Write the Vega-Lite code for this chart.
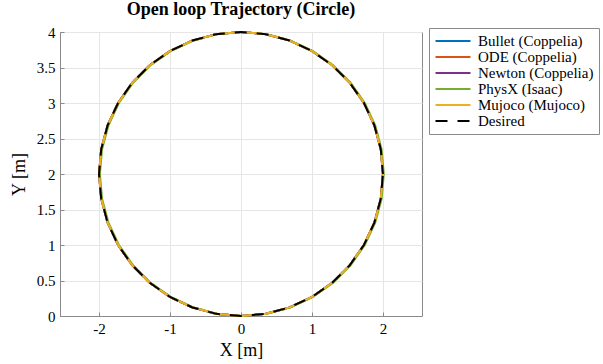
{
  "$schema": "https://vega.github.io/schema/vega-lite/v6.json",
  "autosize": "none",
  "width": 362,
  "height": 284,
  "padding": {"left": 60, "top": 32, "right": 181, "bottom": 48},
  "background": "white",
  "config": {
    "font": "Liberation Serif",
    "view": {"stroke": "#8a8a8a", "strokeWidth": 1},
    "axis": {
      "labelFont": "Liberation Serif",
      "labelFontSize": 15,
      "labelColor": "#000000",
      "titleFont": "Liberation Serif",
      "titleFontSize": 18,
      "titleFontWeight": "normal",
      "titleColor": "#000000",
      "gridColor": "#e6e6e6",
      "gridWidth": 1,
      "domainColor": "#8a8a8a",
      "tickColor": "#8a8a8a",
      "tickSize": -4,
      "labelPadding": 9
    },
    "legend": {"labelFont": "Liberation Serif"}
  },
  "title": {
    "text": "Open loop Trajectory (Circle)",
    "font": "Liberation Serif",
    "fontSize": 18,
    "fontWeight": "bold",
    "color": "#000000",
    "anchor": "middle",
    "offset": 6
  },
  "data": {
    "values": [
      {"s":"Bullet (Coppelia)","i":0,"x":2,"y":2},{"s":"Bullet (Coppelia)","i":1,"x":1.9696,"y":2.3473},{"s":"Bullet (Coppelia)","i":2,"x":1.8794,"y":2.684},{"s":"Bullet (Coppelia)","i":3,"x":1.7321,"y":3},{"s":"Bullet (Coppelia)","i":4,"x":1.5321,"y":3.2856},{"s":"Bullet (Coppelia)","i":5,"x":1.2856,"y":3.5321},{"s":"Bullet (Coppelia)","i":6,"x":1,"y":3.7321},{"s":"Bullet (Coppelia)","i":7,"x":0.684,"y":3.8794},{"s":"Bullet (Coppelia)","i":8,"x":0.3473,"y":3.9696},{"s":"Bullet (Coppelia)","i":9,"x":0,"y":4},{"s":"Bullet (Coppelia)","i":10,"x":-0.3473,"y":3.9696},{"s":"Bullet (Coppelia)","i":11,"x":-0.684,"y":3.8794},{"s":"Bullet (Coppelia)","i":12,"x":-1,"y":3.7321},{"s":"Bullet (Coppelia)","i":13,"x":-1.2856,"y":3.5321},{"s":"Bullet (Coppelia)","i":14,"x":-1.5321,"y":3.2856},{"s":"Bullet (Coppelia)","i":15,"x":-1.7321,"y":3},{"s":"Bullet (Coppelia)","i":16,"x":-1.8794,"y":2.684},{"s":"Bullet (Coppelia)","i":17,"x":-1.9696,"y":2.3473},{"s":"Bullet (Coppelia)","i":18,"x":-2,"y":2},{"s":"Bullet (Coppelia)","i":19,"x":-1.9696,"y":1.6527},{"s":"Bullet (Coppelia)","i":20,"x":-1.8794,"y":1.316},{"s":"Bullet (Coppelia)","i":21,"x":-1.7321,"y":1},{"s":"Bullet (Coppelia)","i":22,"x":-1.5321,"y":0.7144},{"s":"Bullet (Coppelia)","i":23,"x":-1.2856,"y":0.4679},{"s":"Bullet (Coppelia)","i":24,"x":-1,"y":0.2679},{"s":"Bullet (Coppelia)","i":25,"x":-0.684,"y":0.1206},{"s":"Bullet (Coppelia)","i":26,"x":-0.3473,"y":0.0304},{"s":"Bullet (Coppelia)","i":27,"x":0,"y":0},{"s":"Bullet (Coppelia)","i":28,"x":0.3473,"y":0.0304},{"s":"Bullet (Coppelia)","i":29,"x":0.684,"y":0.1206},{"s":"Bullet (Coppelia)","i":30,"x":1,"y":0.2679},{"s":"Bullet (Coppelia)","i":31,"x":1.2856,"y":0.4679},{"s":"Bullet (Coppelia)","i":32,"x":1.5321,"y":0.7144},{"s":"Bullet (Coppelia)","i":33,"x":1.7321,"y":1},{"s":"Bullet (Coppelia)","i":34,"x":1.8794,"y":1.316},{"s":"Bullet (Coppelia)","i":35,"x":1.9696,"y":1.6527},{"s":"Bullet (Coppelia)","i":36,"x":2,"y":2},
      {"s":"ODE (Coppelia)","i":0,"x":2,"y":2},{"s":"ODE (Coppelia)","i":1,"x":1.9696,"y":2.3473},{"s":"ODE (Coppelia)","i":2,"x":1.8794,"y":2.684},{"s":"ODE (Coppelia)","i":3,"x":1.7321,"y":3},{"s":"ODE (Coppelia)","i":4,"x":1.5321,"y":3.2856},{"s":"ODE (Coppelia)","i":5,"x":1.2856,"y":3.5321},{"s":"ODE (Coppelia)","i":6,"x":1,"y":3.7321},{"s":"ODE (Coppelia)","i":7,"x":0.684,"y":3.8794},{"s":"ODE (Coppelia)","i":8,"x":0.3473,"y":3.9696},{"s":"ODE (Coppelia)","i":9,"x":0,"y":4},{"s":"ODE (Coppelia)","i":10,"x":-0.3473,"y":3.9696},{"s":"ODE (Coppelia)","i":11,"x":-0.684,"y":3.8794},{"s":"ODE (Coppelia)","i":12,"x":-1,"y":3.7321},{"s":"ODE (Coppelia)","i":13,"x":-1.2856,"y":3.5321},{"s":"ODE (Coppelia)","i":14,"x":-1.5321,"y":3.2856},{"s":"ODE (Coppelia)","i":15,"x":-1.7321,"y":3},{"s":"ODE (Coppelia)","i":16,"x":-1.8794,"y":2.684},{"s":"ODE (Coppelia)","i":17,"x":-1.9696,"y":2.3473},{"s":"ODE (Coppelia)","i":18,"x":-2,"y":2},{"s":"ODE (Coppelia)","i":19,"x":-1.9696,"y":1.6527},{"s":"ODE (Coppelia)","i":20,"x":-1.8794,"y":1.316},{"s":"ODE (Coppelia)","i":21,"x":-1.7321,"y":1},{"s":"ODE (Coppelia)","i":22,"x":-1.5321,"y":0.7144},{"s":"ODE (Coppelia)","i":23,"x":-1.2856,"y":0.4679},{"s":"ODE (Coppelia)","i":24,"x":-1,"y":0.2679},{"s":"ODE (Coppelia)","i":25,"x":-0.684,"y":0.1206},{"s":"ODE (Coppelia)","i":26,"x":-0.3473,"y":0.0304},{"s":"ODE (Coppelia)","i":27,"x":0,"y":0},{"s":"ODE (Coppelia)","i":28,"x":0.3473,"y":0.0304},{"s":"ODE (Coppelia)","i":29,"x":0.684,"y":0.1206},{"s":"ODE (Coppelia)","i":30,"x":1,"y":0.2679},{"s":"ODE (Coppelia)","i":31,"x":1.2856,"y":0.4679},{"s":"ODE (Coppelia)","i":32,"x":1.5321,"y":0.7144},{"s":"ODE (Coppelia)","i":33,"x":1.7321,"y":1},{"s":"ODE (Coppelia)","i":34,"x":1.8794,"y":1.316},{"s":"ODE (Coppelia)","i":35,"x":1.9696,"y":1.6527},{"s":"ODE (Coppelia)","i":36,"x":2,"y":2},
      {"s":"Newton (Coppelia)","i":0,"x":2,"y":2},{"s":"Newton (Coppelia)","i":1,"x":1.9696,"y":2.3473},{"s":"Newton (Coppelia)","i":2,"x":1.8794,"y":2.684},{"s":"Newton (Coppelia)","i":3,"x":1.7321,"y":3},{"s":"Newton (Coppelia)","i":4,"x":1.5321,"y":3.2856},{"s":"Newton (Coppelia)","i":5,"x":1.2856,"y":3.5321},{"s":"Newton (Coppelia)","i":6,"x":1,"y":3.7321},{"s":"Newton (Coppelia)","i":7,"x":0.684,"y":3.8794},{"s":"Newton (Coppelia)","i":8,"x":0.3473,"y":3.9696},{"s":"Newton (Coppelia)","i":9,"x":0,"y":4},{"s":"Newton (Coppelia)","i":10,"x":-0.3473,"y":3.9696},{"s":"Newton (Coppelia)","i":11,"x":-0.684,"y":3.8794},{"s":"Newton (Coppelia)","i":12,"x":-1,"y":3.7321},{"s":"Newton (Coppelia)","i":13,"x":-1.2856,"y":3.5321},{"s":"Newton (Coppelia)","i":14,"x":-1.5321,"y":3.2856},{"s":"Newton (Coppelia)","i":15,"x":-1.7321,"y":3},{"s":"Newton (Coppelia)","i":16,"x":-1.8794,"y":2.684},{"s":"Newton (Coppelia)","i":17,"x":-1.9696,"y":2.3473},{"s":"Newton (Coppelia)","i":18,"x":-2,"y":2},{"s":"Newton (Coppelia)","i":19,"x":-1.9696,"y":1.6527},{"s":"Newton (Coppelia)","i":20,"x":-1.8794,"y":1.316},{"s":"Newton (Coppelia)","i":21,"x":-1.7321,"y":1},{"s":"Newton (Coppelia)","i":22,"x":-1.5321,"y":0.7144},{"s":"Newton (Coppelia)","i":23,"x":-1.2856,"y":0.4679},{"s":"Newton (Coppelia)","i":24,"x":-1,"y":0.2679},{"s":"Newton (Coppelia)","i":25,"x":-0.684,"y":0.1206},{"s":"Newton (Coppelia)","i":26,"x":-0.3473,"y":0.0304},{"s":"Newton (Coppelia)","i":27,"x":0,"y":0},{"s":"Newton (Coppelia)","i":28,"x":0.3473,"y":0.0304},{"s":"Newton (Coppelia)","i":29,"x":0.684,"y":0.1206},{"s":"Newton (Coppelia)","i":30,"x":1,"y":0.2679},{"s":"Newton (Coppelia)","i":31,"x":1.2856,"y":0.4679},{"s":"Newton (Coppelia)","i":32,"x":1.5321,"y":0.7144},{"s":"Newton (Coppelia)","i":33,"x":1.7321,"y":1},{"s":"Newton (Coppelia)","i":34,"x":1.8794,"y":1.316},{"s":"Newton (Coppelia)","i":35,"x":1.9696,"y":1.6527},{"s":"Newton (Coppelia)","i":36,"x":2,"y":2},
      {"s":"PhysX (Isaac)","i":0,"x":2.012,"y":2},{"s":"PhysX (Isaac)","i":1,"x":1.9816,"y":2.3473},{"s":"PhysX (Isaac)","i":2,"x":1.8914,"y":2.684},{"s":"PhysX (Isaac)","i":3,"x":1.7441,"y":3},{"s":"PhysX (Isaac)","i":4,"x":1.5441,"y":3.2856},{"s":"PhysX (Isaac)","i":5,"x":1.2976,"y":3.5321},{"s":"PhysX (Isaac)","i":6,"x":1.012,"y":3.7321},{"s":"PhysX (Isaac)","i":7,"x":0.696,"y":3.8794},{"s":"PhysX (Isaac)","i":8,"x":0.3593,"y":3.9696},{"s":"PhysX (Isaac)","i":9,"x":0.012,"y":4},{"s":"PhysX (Isaac)","i":10,"x":-0.3353,"y":3.9696},{"s":"PhysX (Isaac)","i":11,"x":-0.672,"y":3.8794},{"s":"PhysX (Isaac)","i":12,"x":-0.988,"y":3.7321},{"s":"PhysX (Isaac)","i":13,"x":-1.2736,"y":3.5321},{"s":"PhysX (Isaac)","i":14,"x":-1.5201,"y":3.2856},{"s":"PhysX (Isaac)","i":15,"x":-1.7201,"y":3},{"s":"PhysX (Isaac)","i":16,"x":-1.8674,"y":2.684},{"s":"PhysX (Isaac)","i":17,"x":-1.9576,"y":2.3473},{"s":"PhysX (Isaac)","i":18,"x":-1.988,"y":2},{"s":"PhysX (Isaac)","i":19,"x":-1.9576,"y":1.6527},{"s":"PhysX (Isaac)","i":20,"x":-1.8674,"y":1.316},{"s":"PhysX (Isaac)","i":21,"x":-1.7201,"y":1},{"s":"PhysX (Isaac)","i":22,"x":-1.5201,"y":0.7144},{"s":"PhysX (Isaac)","i":23,"x":-1.2736,"y":0.4679},{"s":"PhysX (Isaac)","i":24,"x":-0.988,"y":0.2679},{"s":"PhysX (Isaac)","i":25,"x":-0.672,"y":0.1206},{"s":"PhysX (Isaac)","i":26,"x":-0.3353,"y":0.0304},{"s":"PhysX (Isaac)","i":27,"x":0.012,"y":0},{"s":"PhysX (Isaac)","i":28,"x":0.3593,"y":0.0304},{"s":"PhysX (Isaac)","i":29,"x":0.696,"y":0.1206},{"s":"PhysX (Isaac)","i":30,"x":1.012,"y":0.2679},{"s":"PhysX (Isaac)","i":31,"x":1.2976,"y":0.4679},{"s":"PhysX (Isaac)","i":32,"x":1.5441,"y":0.7144},{"s":"PhysX (Isaac)","i":33,"x":1.7441,"y":1},{"s":"PhysX (Isaac)","i":34,"x":1.8914,"y":1.316},{"s":"PhysX (Isaac)","i":35,"x":1.9816,"y":1.6527},{"s":"PhysX (Isaac)","i":36,"x":2.012,"y":2},
      {"s":"Mujoco (Mujoco)","i":0,"x":2,"y":2},{"s":"Mujoco (Mujoco)","i":1,"x":1.9696,"y":2.3473},{"s":"Mujoco (Mujoco)","i":2,"x":1.8794,"y":2.684},{"s":"Mujoco (Mujoco)","i":3,"x":1.7321,"y":3},{"s":"Mujoco (Mujoco)","i":4,"x":1.5321,"y":3.2856},{"s":"Mujoco (Mujoco)","i":5,"x":1.2856,"y":3.5321},{"s":"Mujoco (Mujoco)","i":6,"x":1,"y":3.7321},{"s":"Mujoco (Mujoco)","i":7,"x":0.684,"y":3.8794},{"s":"Mujoco (Mujoco)","i":8,"x":0.3473,"y":3.9696},{"s":"Mujoco (Mujoco)","i":9,"x":0,"y":4},{"s":"Mujoco (Mujoco)","i":10,"x":-0.3473,"y":3.9696},{"s":"Mujoco (Mujoco)","i":11,"x":-0.684,"y":3.8794},{"s":"Mujoco (Mujoco)","i":12,"x":-1,"y":3.7321},{"s":"Mujoco (Mujoco)","i":13,"x":-1.2856,"y":3.5321},{"s":"Mujoco (Mujoco)","i":14,"x":-1.5321,"y":3.2856},{"s":"Mujoco (Mujoco)","i":15,"x":-1.7321,"y":3},{"s":"Mujoco (Mujoco)","i":16,"x":-1.8794,"y":2.684},{"s":"Mujoco (Mujoco)","i":17,"x":-1.9696,"y":2.3473},{"s":"Mujoco (Mujoco)","i":18,"x":-2,"y":2},{"s":"Mujoco (Mujoco)","i":19,"x":-1.9696,"y":1.6527},{"s":"Mujoco (Mujoco)","i":20,"x":-1.8794,"y":1.316},{"s":"Mujoco (Mujoco)","i":21,"x":-1.7321,"y":1},{"s":"Mujoco (Mujoco)","i":22,"x":-1.5321,"y":0.7144},{"s":"Mujoco (Mujoco)","i":23,"x":-1.2856,"y":0.4679},{"s":"Mujoco (Mujoco)","i":24,"x":-1,"y":0.2679},{"s":"Mujoco (Mujoco)","i":25,"x":-0.684,"y":0.1206},{"s":"Mujoco (Mujoco)","i":26,"x":-0.3473,"y":0.0304},{"s":"Mujoco (Mujoco)","i":27,"x":0,"y":0},{"s":"Mujoco (Mujoco)","i":28,"x":0.3473,"y":0.0304},{"s":"Mujoco (Mujoco)","i":29,"x":0.684,"y":0.1206},{"s":"Mujoco (Mujoco)","i":30,"x":1,"y":0.2679},{"s":"Mujoco (Mujoco)","i":31,"x":1.2856,"y":0.4679},{"s":"Mujoco (Mujoco)","i":32,"x":1.5321,"y":0.7144},{"s":"Mujoco (Mujoco)","i":33,"x":1.7321,"y":1},{"s":"Mujoco (Mujoco)","i":34,"x":1.8794,"y":1.316},{"s":"Mujoco (Mujoco)","i":35,"x":1.9696,"y":1.6527},{"s":"Mujoco (Mujoco)","i":36,"x":2,"y":2},
      {"s":"Desired","i":0,"x":2,"y":2},{"s":"Desired","i":1,"x":1.9696,"y":2.3473},{"s":"Desired","i":2,"x":1.8794,"y":2.684},{"s":"Desired","i":3,"x":1.7321,"y":3},{"s":"Desired","i":4,"x":1.5321,"y":3.2856},{"s":"Desired","i":5,"x":1.2856,"y":3.5321},{"s":"Desired","i":6,"x":1,"y":3.7321},{"s":"Desired","i":7,"x":0.684,"y":3.8794},{"s":"Desired","i":8,"x":0.3473,"y":3.9696},{"s":"Desired","i":9,"x":0,"y":4},{"s":"Desired","i":10,"x":-0.3473,"y":3.9696},{"s":"Desired","i":11,"x":-0.684,"y":3.8794},{"s":"Desired","i":12,"x":-1,"y":3.7321},{"s":"Desired","i":13,"x":-1.2856,"y":3.5321},{"s":"Desired","i":14,"x":-1.5321,"y":3.2856},{"s":"Desired","i":15,"x":-1.7321,"y":3},{"s":"Desired","i":16,"x":-1.8794,"y":2.684},{"s":"Desired","i":17,"x":-1.9696,"y":2.3473},{"s":"Desired","i":18,"x":-2,"y":2},{"s":"Desired","i":19,"x":-1.9696,"y":1.6527},{"s":"Desired","i":20,"x":-1.8794,"y":1.316},{"s":"Desired","i":21,"x":-1.7321,"y":1},{"s":"Desired","i":22,"x":-1.5321,"y":0.7144},{"s":"Desired","i":23,"x":-1.2856,"y":0.4679},{"s":"Desired","i":24,"x":-1,"y":0.2679},{"s":"Desired","i":25,"x":-0.684,"y":0.1206},{"s":"Desired","i":26,"x":-0.3473,"y":0.0304},{"s":"Desired","i":27,"x":0,"y":0},{"s":"Desired","i":28,"x":0.3473,"y":0.0304},{"s":"Desired","i":29,"x":0.684,"y":0.1206},{"s":"Desired","i":30,"x":1,"y":0.2679},{"s":"Desired","i":31,"x":1.2856,"y":0.4679},{"s":"Desired","i":32,"x":1.5321,"y":0.7144},{"s":"Desired","i":33,"x":1.7321,"y":1},{"s":"Desired","i":34,"x":1.8794,"y":1.316},{"s":"Desired","i":35,"x":1.9696,"y":1.6527},{"s":"Desired","i":36,"x":2,"y":2}
    ]
  },
  "mark": {"type": "line", "clip": false, "strokeDashOffset": 3},
  "encoding": {
    "x": {
      "field": "x", "type": "quantitative",
      "scale": {"domain": [-2.55, 2.55], "nice": false, "zero": false},
      "axis": {"values": [-2, -1, 0, 1, 2], "title": "X [m]", "titlePadding": 5, "labelExpr": "datum.value + ''", "labelFont": "Liberation Serif"}
    },
    "y": {
      "field": "y", "type": "quantitative",
      "scale": {"domain": [0, 4], "nice": false},
      "axis": {"values": [0, 0.5, 1, 1.5, 2, 2.5, 3, 3.5, 4], "title": "Y [m]", "titlePadding": 8, "labelExpr": "datum.value + ''", "labelFont": "Liberation Serif"}
    },
    "order": {"field": "i", "type": "quantitative"},
    "color": {
      "field": "s", "type": "nominal",
      "scale": {
        "domain": ["Bullet (Coppelia)", "ODE (Coppelia)", "Newton (Coppelia)", "PhysX (Isaac)", "Mujoco (Mujoco)", "Desired"],
        "range": ["#0072BD", "#D95319", "#7E2F8E", "#77AC30", "#EDB120", "#000000"]
      },
      "legend": {
        "title": null,
        "orient": "none",
        "legendX": 369,
        "legendY": -4,
        "fillColor": "white",
        "strokeColor": "#8a8a8a",
        "padding": 5,
        "labelFont": "Liberation Serif",
        "labelFontSize": 15,
        "labelColor": "#000000",
        "labelLimit": 300,
        "symbolType": "M-2.5,0H2.5",
        "symbolSize": 196,
        "symbolOffset": 11,
        "labelOffset": 17,
        "rowPadding": -2
      }
    },
    "strokeDash": {
      "field": "s", "type": "nominal",
      "scale": {
        "domain": ["Bullet (Coppelia)", "ODE (Coppelia)", "Newton (Coppelia)", "PhysX (Isaac)", "Mujoco (Mujoco)", "Desired"],
        "range": [[1, 0], [1, 0], [1, 0], [1, 0], [1, 0], [12, 10]]
      },
      "legend": null
    },
    "strokeWidth": {
      "field": "s", "type": "nominal",
      "scale": {
        "domain": ["Bullet (Coppelia)", "ODE (Coppelia)", "Newton (Coppelia)", "PhysX (Isaac)", "Mujoco (Mujoco)", "Desired"],
        "range": [2, 2, 2, 2, 2, 4]
      },
      "legend": null
    }
  }
}
